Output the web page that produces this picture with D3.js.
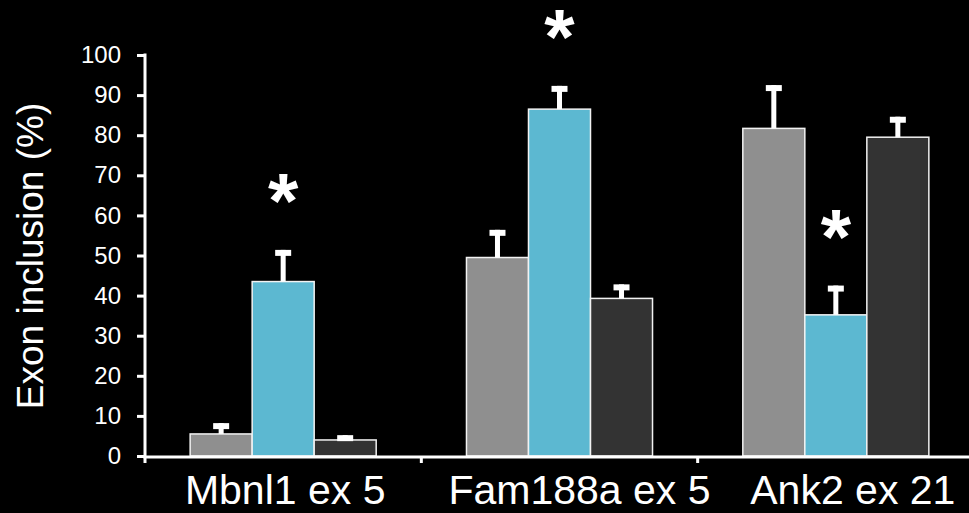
<!DOCTYPE html>
<html>
<head>
<meta charset="utf-8">
<script src="https://cdn.jsdelivr.net/npm/d3@7"></script>
<style>
  html, body { margin: 0; padding: 0; background: #000; }
  svg { display: block; }
  text { font-family: "Liberation Sans", Arial, sans-serif; fill: #fff; }
</style>
</head>
<body>
<svg id="chart" width="969" height="513"></svg>
<script>
// Exons measured
const exons = ["Mbnl1 ex 5", "Fam188a ex 5", "Ank2 ex 21"];
// Three conditions per exon
const conditions = ["grey", "cyan", "dark"];
// Mean exon inclusion (%) per condition, one value per exon
const greyMeans = [5.5, 49.5, 81.7];
const cyanMeans = [43.5, 86.5, 35.2];
const darkMeans = [4.0, 39.3, 79.5];
// Upper error (%) per condition
const greyErrors = [2.7, 6.9, 10.8];
const cyanErrors = [7.9, 5.8, 7.3];
const darkErrors = [1.2, 3.5, 5.1];
// Significance marks (on the cyan condition)
const cyanSignificant = [true, true, true];
// Y axis ticks
const yTicks = [0, 10, 20, 30, 40, 50, 60, 70, 80, 90, 100];
const yTitle = "Exon inclusion (%)";

const fills = { grey: "#8f8f8f", cyan: "#5cb8d1", dark: "#333333" };
const meansBy = { grey: greyMeans, cyan: cyanMeans, dark: darkMeans };
const errorsBy = { grey: greyErrors, cyan: cyanErrors, dark: darkErrors };

const rows = [];
exons.forEach((exon, i) => {
  conditions.forEach(c => {
    rows.push({ exon, cond: c, mean: meansBy[c][i], err: errorsBy[c][i],
                star: c === "cyan" && cyanSignificant[i] });
  });
});

const svg = d3.select("#chart");
const x0 = 145, x1 = 974, yBase = 456, yTop = 55;

const x = d3.scaleBand().domain(exons).range([x0, x1]).padding(0);
const xSub = d3.scaleBand().domain(conditions).range([0, x.bandwidth()])
  .paddingInner(0).paddingOuter(0.728);
const y = d3.scaleLinear().domain([0, 100]).range([yBase, yTop]);

// Bars
const g = svg.append("g");
g.selectAll("rect.bar").data(rows).join("rect")
  .attr("class", "bar")
  .attr("x", d => x(d.exon) + xSub(d.cond))
  .attr("y", d => y(d.mean))
  .attr("width", xSub.bandwidth())
  .attr("height", d => y(0) - y(d.mean))
  .attr("fill", d => fills[d.cond])
  .attr("stroke", "#f2f2f2")
  .attr("stroke-width", 1.5);

// Error bars (upper only): stem + cap
const capW = 16, capH = 6, stemW = 5;
g.selectAll("rect.stem").data(rows).join("rect")
  .attr("class", "stem")
  .attr("x", d => x(d.exon) + xSub(d.cond) + xSub.bandwidth() / 2 - stemW / 2)
  .attr("y", d => y(d.mean + d.err))
  .attr("width", stemW)
  .attr("height", d => y(d.mean) - y(d.mean + d.err))
  .attr("fill", "#fff");
g.selectAll("rect.cap").data(rows).join("rect")
  .attr("class", "cap")
  .attr("x", d => x(d.exon) + xSub(d.cond) + xSub.bandwidth() / 2 - capW / 2)
  .attr("y", d => y(d.mean + d.err))
  .attr("width", capW)
  .attr("height", capH)
  .attr("fill", "#fff");

// Significance asterisks
g.selectAll("text.star").data(rows.filter(d => d.star)).join("text")
  .attr("class", "star")
  .attr("x", d => x(d.exon) + xSub(d.cond) + xSub.bandwidth() / 2)
  .attr("y", d => y(d.mean + d.err) - 22)
  .attr("text-anchor", "middle")
  .style("font-size", "78px")
  .style("font-weight", "bold")
  .text("*");

// Y axis
const yAxis = svg.append("g")
  .attr("transform", `translate(${x0},0)`)
  .call(d3.axisLeft(y).tickValues(yTicks).tickSize(8).tickSizeOuter(0).tickPadding(16));
yAxis.select(".domain").attr("stroke", "#fff").attr("stroke-width", 3)
  .attr("d", `M0,${yTop - 1.5}V${yBase + 1.5}`);
yAxis.selectAll(".tick line").attr("stroke", "#fff").attr("stroke-width", 3);
yAxis.selectAll(".tick text").style("font-size", "24px").attr("fill", "#fff")
  .style("font-family", '"Liberation Sans", Arial, sans-serif');

// X axis line and boundary ticks
svg.append("line")
  .attr("x1", x0 - 1.5).attr("x2", 969)
  .attr("y1", yBase + 1).attr("y2", yBase + 1)
  .attr("stroke", "#fff").attr("stroke-width", 3);
svg.selectAll("line.xtick").data(exons).join("line")
  .attr("class", "xtick")
  .attr("x1", d => x(d)).attr("x2", d => x(d))
  .attr("y1", yBase).attr("y2", yBase + 7)
  .attr("stroke", "#fff").attr("stroke-width", 3);

// Category labels
const labelNudge = [2, 20, 17];
svg.selectAll("text.xlabel").data(exons).join("text")
  .attr("class", "xlabel")
  .attr("x", (d, i) => x(d) + x.bandwidth() / 2 + labelNudge[i])
  .attr("y", 504)
  .attr("text-anchor", "middle")
  .style("font-size", "41px")
  .text(d => d);

// Y axis title
svg.append("text")
  .attr("transform", "translate(43,256) rotate(-90)")
  .attr("text-anchor", "middle")
  .style("font-size", "37px")
  .text(yTitle);
</script>
</body>
</html>
